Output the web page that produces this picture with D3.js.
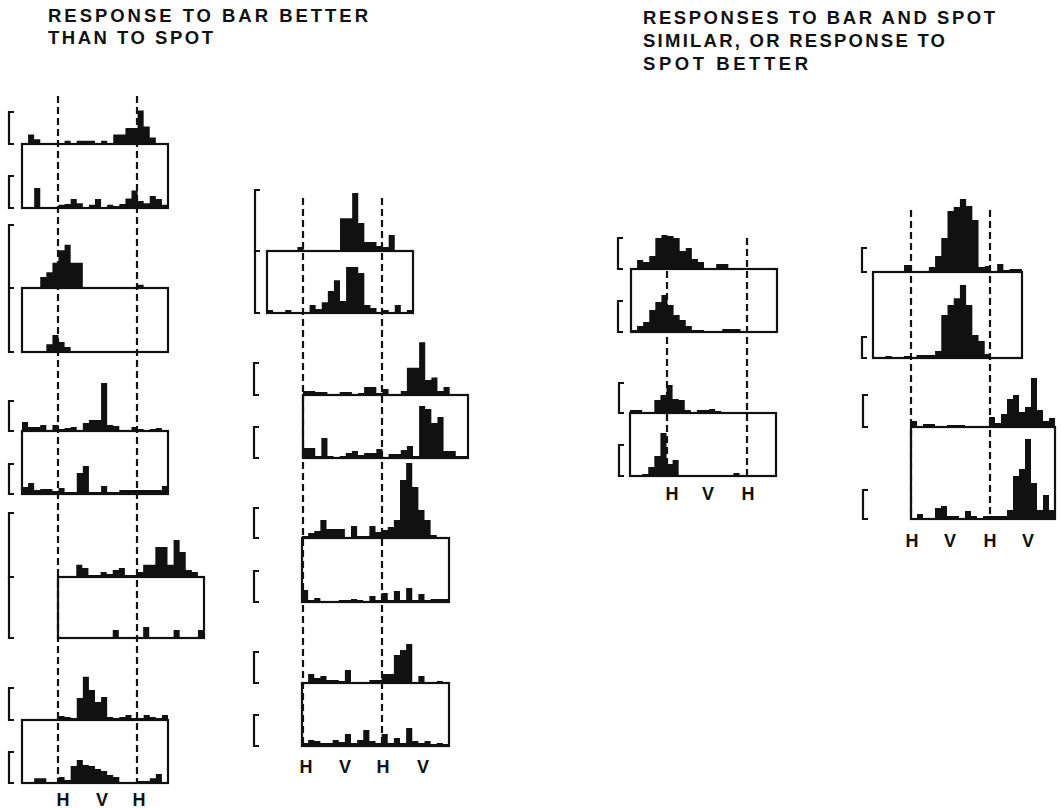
<!DOCTYPE html>
<html>
<head>
<meta charset="utf-8">
<script src="https://cdn.jsdelivr.net/npm/d3@7"></script>
<style>
  body { margin: 0; background: #fff; }
  svg { display: block; }
  text { font-family: "Liberation Sans", Arial, sans-serif; fill: #111; }
</style>
</head>
<body>
<div id="chart"></div>
<script>
// counts per bin, bracket = 20 counts. "bar" = upper histogram, "spot" = lower one
var BRACKET = 20;

var a1Bar  = [0.5,6,3,0.3,0,0,0.3,2,0.5,2,2,2,0.5,2,0.5,6,6,10,10,21,11,4,0.5,0];
var a1Spot = [0,0,12.5,0,0,0,2,2.5,5.6,3,0.3,2,5.6,0.6,2,1.2,2.5,6,11,4.4,3,7.5,5.6,2];
var a2Bar  = [0,0,0,3.5,5,8,12,13.7,8,8,0.2,0.2,0.2,0.2,0.2,0.2,0.2,0.2,0.2,1,0.2,0,0,0];
var a2Spot = [0,0,0,0,2.5,5.4,3.2,1.6,0,0,0,0,0,0,0,0,0,0,0,0,0,0,0,0];
var a3Bar  = [6,2.7,2.7,4,0.7,4,1.3,2,2.7,0.7,5.3,7.3,7.3,32,4,3.3,0.3,0.3,2.7,1.3,0.7,1.3,2,0.7];
var a3Spot = [4.7,7.3,2.7,3.3,3.3,2,4,1.3,1.3,14,18.7,1.3,1.3,5.3,1.3,1.3,2.7,2.7,2.7,2.7,2.7,2.7,2.7,5.3];
var a4Bar  = [0,0,0,3.8,2.8,0.6,0.6,1.6,0.9,2.2,2.8,0.6,0.6,1.6,3.8,3.8,9.4,9.4,3.8,11.6,7.8,2.2,1.6,0.3];
var a4Spot = [0,0,0,0,0,0,0,0,0,2.5,0,0,0,0,3.4,0,0,0,0,2.5,0,0,0,2.5];
var a5Bar  = [0,0,0,0,0,0,2.5,1.9,1.2,13.8,27,18.8,11.2,14.4,1.9,1.2,1.9,3.1,1.2,1.2,3.1,1.9,1.2,3.1];
var a5Spot = [0,0,3,3,0,0,3.7,1.9,10.6,14.4,11.2,10.6,8.8,7.5,5,3.7,0.6,0.6,0.6,1.2,1.2,3,5.6,0.6];

var b1Bar  = [0,0,0,0,0,1.3,0,0,0,0,0,0,10.6,10.6,18.7,9,2.9,2.9,1.6,1.3,5.2,0,0,0];
var b1Spot = [1,0,0,1,0,0,0,2.6,1.3,3.5,7.1,10.6,3.9,14.8,14.8,12.9,2.6,1.6,0,1,0,2.6,0,1];
var b2Bar  = [2.5,2.5,1.9,1.9,0.6,0.6,1.9,1.9,0.6,1.2,5,5,1.2,3.8,0.6,0,2.5,17,17,33,9.4,11,2.5,5,0,0,0];
var b2Spot = [6.2,6.2,1.2,12.5,1.2,0,1.2,3.1,4.4,1.9,3.1,3.1,5.6,0.3,2.5,2.5,5,7.5,1.2,32.5,30.6,21.9,25.6,4.4,4.4,1.2,1.2];
var b3Bar  = [1.3,3.3,4.7,12,6,6,6,0.7,8,1.3,1.3,8,4,5.3,7.3,12,38.7,50,34,18.7,12,2,0.7,0];
var b3Spot = [8,1.3,2.7,0.7,0.7,0.7,1.3,1.3,2,1.3,0.7,4,1.3,6,1.3,7.3,1.3,9.3,1.3,5.3,1.3,2,2,2];
var b4Bar  = [0.7,6,3.3,4.7,2,2,1.3,8.7,0.7,0.7,0.7,2,2,6,6,18.7,22,26,0.3,4.7,0.7,0.7,1.3,0];
var b4Spot = [2,4,3.3,2,2,4,2.7,8,2,4,10.7,3.3,2,8,2,5.3,2,12,3.3,2,3.3,1.3,2,1.3];

var c1Bar  = [0,5.8,4.5,8.4,20,22,21.3,20,11.6,13.5,6.5,4.5,0.3,0.3,3.2,3.2,0,0,0,0,0,0,0,0];
var c1Spot = [1.3,3.9,6.5,14.2,19.4,23.9,17.4,11,7.7,3.9,1.3,1.3,0.3,0,0,1.9,1.9,1.9,0,0,0,0,0,0];
var c2Bar  = [2,2,0,0.3,8.7,12,18.7,9.3,8.7,2,0.7,2,2,2.7,1.3,0.3,0,0,0,0,0,0,0.7,0];
var c2Spot = [0,0,1.3,6,13.3,28.7,8,10.7,0,0,0,0,0,0,0,0,0,2,0,0,0,0,0,0];
var c3Bar  = [0,0,0,0,0,6,0.9,0,0,4.3,14,29.6,53,56.5,63.5,57.4,45.2,4.3,5.2,0,7,1.7,2.6,2.6];
var c3Spot = [0,0,1.7,0,0,1.7,0,2.6,2.6,2.6,6,37.4,46,52,63.5,46,20,14.8,3.5,0,0,0,0,0];
var c4Bar  = [3.9,0.6,1.9,1.9,0.6,0.6,1.3,1.3,1.3,0.6,0.6,0.6,0.6,6.5,2.6,8.4,18,20.6,9.7,12.9,31.6,11,3.9,5.8];
var c4Spot = [0.6,3.2,0.6,0.6,7.1,8.4,1.9,1.9,0.6,5.2,1.9,0.6,1.9,1.9,1.9,1.9,5.8,27.7,32.3,51.6,23.2,5.8,15.5,5.8];

var orientLabels3 = ["H", "V", "H"];
var orientLabels4 = ["H", "V", "H", "V"];

var titleLeft  = ["RESPONSE TO BAR BETTER", "THAN TO SPOT"];
var titleRight = ["RESPONSES TO  BAR AND SPOT", "SIMILAR, OR RESPONSE TO", "SPOT BETTER"];

// layout of each panel (box edges, bracket, px per bracket)
var panels = [
  {bar: a1Bar, spot: a1Spot, x0: 22,  x1: 168,  top: 144, bot: 208, bx: 9,   up: [112, 144], lo: [176, 208], px: 32},
  {bar: a2Bar, spot: a2Spot, x0: 22,  x1: 168,  top: 288, bot: 352, bx: 9,   up: [225, 288], lo: [288, 352], px: 63},
  {bar: a3Bar, spot: a3Spot, x0: 22,  x1: 168,  top: 431, bot: 494, bx: 9,   up: [401, 431], lo: [464, 494], px: 30},
  {bar: a4Bar, spot: a4Spot, x0: 58,  x1: 204,  top: 577, bot: 638, bx: 9,   up: [513, 577], lo: [577, 638], px: 64},
  {bar: a5Bar, spot: a5Spot, x0: 22,  x1: 168,  top: 720, bot: 783, bx: 9,   up: [688, 720], lo: [752, 783], px: 32},
  {bar: b1Bar, spot: b1Spot, x0: 267, x1: 413,  top: 251, bot: 313, bx: 255, up: [190, 251], lo: [251, 313], px: 62},
  {bar: b2Bar, spot: b2Spot, x0: 303, x1: 468,  top: 395, bot: 458, bx: 254, up: [363, 395], lo: [427, 458], px: 32},
  {bar: b3Bar, spot: b3Spot, x0: 302, x1: 449,  top: 538, bot: 602, bx: 254, up: [508, 538], lo: [571, 602], px: 30},
  {bar: b4Bar, spot: b4Spot, x0: 302, x1: 449,  top: 683, bot: 746, bx: 254, up: [652, 683], lo: [715, 746], px: 30},
  {bar: c1Bar, spot: c1Spot, x0: 631, x1: 777,  top: 269, bot: 332, bx: 618, up: [238, 269], lo: [301, 332], px: 31},
  {bar: c2Bar, spot: c2Spot, x0: 630, x1: 776,  top: 413, bot: 476, bx: 619, up: [383, 413], lo: [445, 476], px: 30},
  {bar: c3Bar, spot: c3Spot, x0: 873, x1: 1022, top: 272, bot: 358, bx: 862, up: [248, 272], lo: [337, 358], px: 23},
  {bar: c4Bar, spot: c4Spot, x0: 911, x1: 1055, top: 427, bot: 519, bx: 863, up: [395, 427], lo: [490, 519], px: 31}
];

var guides = [
  {xs: [58, 137],  y0: 96,  y1: 783},
  {xs: [303, 382], y0: 198, y1: 746},
  {xs: [667, 747], y0: 238, y1: 476},
  {xs: [911, 990], y0: 210, y1: 519}
];

var labelRows = [
  {labels: orientLabels3, xs: [63, 102, 139],        y: 806},
  {labels: orientLabels4, xs: [306, 345, 383, 423],  y: 773},
  {labels: orientLabels3, xs: [672, 708, 748],       y: 500},
  {labels: orientLabels4, xs: [912, 950, 990, 1028], y: 547}
];

var svg = d3.select("#chart").append("svg")
    .attr("width", 1061)
    .attr("height", 809);

// titles
function title(lines, x, y0, dy, widths) {
  lines.forEach(function(t, i) {
    svg.append("text")
      .attr("x", x)
      .attr("y", y0 + i * dy)
      .attr("font-size", 18.5)
      .attr("font-weight", "bold")
      .attr("textLength", widths[i])
      .attr("lengthAdjust", "spacing")
      .text(t);
  });
}
title(titleLeft, 48, 22, 21.5, [320, 165]);
title(titleRight, 643, 23.5, 23, [352, 302, 165]);

// dashed orientation guides
guides.forEach(function(g) {
  g.xs.forEach(function(x) {
    svg.append("line")
      .attr("x1", x).attr("x2", x)
      .attr("y1", g.y0).attr("y2", g.y1)
      .attr("stroke", "#111")
      .attr("stroke-width", 2.2)
      .attr("stroke-dasharray", "7,4");
  });
});

function bracket(x, ya, yb) {
  svg.append("path")
    .attr("d", "M" + (x + 5) + "," + ya + "H" + x + "V" + yb + "H" + (x + 5))
    .attr("fill", "none")
    .attr("stroke", "#111")
    .attr("stroke-width", 2.2);
}

panels.forEach(function(p) {
  var x = d3.scaleBand()
    .domain(d3.range(p.bar.length))
    .range([p.x0, p.x1]);
  var h = d3.scaleLinear().domain([0, BRACKET]).range([0, p.px]);

  function hist(values, base) {
    var pts = values.map(function(v, i) { return {x: x(i), v: v}; });
    pts.push({x: p.x1, v: values[values.length - 1]});
    var area = d3.area()
      .x(function(d) { return d.x; })
      .y0(base)
      .y1(function(d) { return base - h(d.v); })
      .curve(d3.curveStepAfter);
    svg.append("path")
      .attr("d", area(pts))
      .attr("fill", "#111");
  }
  hist(p.bar, p.top);
  hist(p.spot, p.bot);

  svg.append("rect")
    .attr("x", p.x0).attr("y", p.top)
    .attr("width", p.x1 - p.x0).attr("height", p.bot - p.top)
    .attr("fill", "none")
    .attr("stroke", "#111")
    .attr("stroke-width", 2.2);

  bracket(p.bx, p.up[0], p.up[1]);
  bracket(p.bx, p.lo[0], p.lo[1]);
});

labelRows.forEach(function(r) {
  r.labels.forEach(function(t, i) {
    svg.append("text")
      .attr("x", r.xs[i])
      .attr("y", r.y)
      .attr("text-anchor", "middle")
      .attr("font-size", 18)
      .attr("font-weight", "bold")
      .text(t);
  });
});
</script>
</body>
</html>
